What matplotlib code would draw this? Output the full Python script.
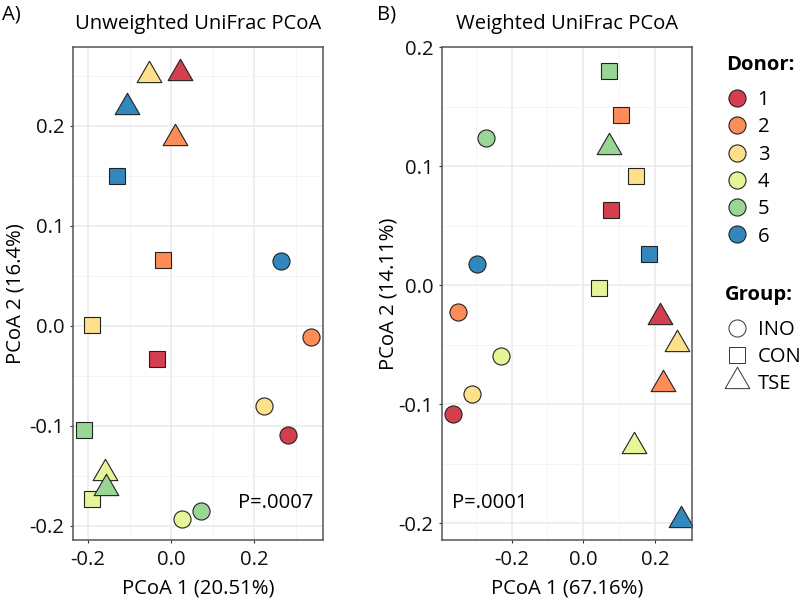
import matplotlib
matplotlib.use("Agg")
import matplotlib.pyplot as plt
from matplotlib.lines import Line2D
from matplotlib.path import Path
import numpy as np

plt.rcParams['font.family'] = ['Open Sans', 'DejaVu Sans']

donors = ['1', '2', '3', '4', '5', '6']
groups = ['INO', 'CON', 'TSE']
donor_colors = ['#D53E4F', '#FC8D59', '#FEE08B', '#E6F598', '#99D594', '#3288BD']

# Unweighted UniFrac: coordinates per group, ordered by donor 1..6
unw_x = {
    'INO': [0.281, 0.338, 0.224, 0.027, 0.073, 0.265],
    'CON': [-0.033, -0.019, -0.190, -0.190, -0.210, -0.131],
    'TSE': [0.022, 0.010, -0.053, -0.159, -0.156, -0.106],
}
unw_y = {
    'INO': [-0.109, -0.011, -0.080, -0.193, -0.185, 0.065],
    'CON': [-0.033, 0.066, 0.001, -0.173, -0.104, 0.150],
    'TSE': [0.253, 0.188, 0.251, -0.147, -0.162, 0.219],
}
# Weighted UniFrac
w_x = {
    'INO': [-0.363, -0.349, -0.312, -0.231, -0.272, -0.297],
    'CON': [0.077, 0.105, 0.147, 0.044, 0.073, 0.184],
    'TSE': [0.214, 0.222, 0.261, 0.142, 0.071, 0.272],
}
w_y = {
    'INO': [-0.108, -0.022, -0.091, -0.059, 0.124, 0.018],
    'CON': [0.063, 0.143, 0.092, -0.002, 0.180, 0.026],
    'TSE': [-0.027, -0.083, -0.049, -0.135, 0.116, -0.197],
}

tri = Path([(0, 1), (-0.866, -0.5), (0.866, -0.5), (0, 1)],
           [Path.MOVETO, Path.LINETO, Path.LINETO, Path.CLOSEPOLY])
markers = {'INO': 'o', 'CON': 's', 'TSE': tri}
msizes = {'INO': 12.3, 'CON': 11.5, 'TSE': 20.5}

FS = 14.6

fig = plt.figure(figsize=(8, 6), dpi=100)
ax1 = fig.add_axes([0.0913, 0.10, 0.3125, 0.8217])
ax2 = fig.add_axes([0.552, 0.10, 0.3133, 0.8217])

def style(ax, xlim, ylim, xmaj, ymaj, xmin, ymin):
    ax.set_xlim(*xlim)
    ax.set_ylim(*ylim)
    ax.set_xticks(xmaj)
    ax.set_yticks(ymaj)
    ax.set_xticks(xmin, minor=True)
    ax.set_yticks(ymin, minor=True)
    ax.grid(which='major', color='#EBEBEB', lw=1.2)
    ax.grid(which='minor', color='#F3F3F3', lw=0.6)
    ax.set_axisbelow(True)
    ax.tick_params(which='minor', length=0)
    ax.tick_params(which='major', length=2.5, color='#333333', width=0.8,
                   labelsize=FS, labelcolor='#111111', pad=3.5)
    ax.tick_params(axis='x', which='major', pad=4.5)
    for s in ax.spines.values():
        s.set_color('#555555')
        s.set_linewidth(1.1)

def draw(ax, X, Y):
    for g in groups:
        for i in range(len(donors)):
            ax.plot(X[g][i], Y[g][i], linestyle='none', marker=markers[g],
                    markersize=msizes[g], markerfacecolor=donor_colors[i],
                    markeredgecolor='#222222', markeredgewidth=0.8)

draw(ax1, unw_x, unw_y)
draw(ax2, w_x, w_y)

style(ax1, (-0.236, 0.366), (-0.214, 0.279),
      [-0.2, 0.0, 0.2], [-0.2, -0.1, 0.0, 0.1, 0.2],
      [-0.1, 0.1, 0.3], [-0.15, -0.05, 0.05, 0.15, 0.25])
style(ax2, (-0.3955, 0.304), (-0.214, 0.2003),
      [-0.2, 0.0, 0.2], [-0.2, -0.1, 0.0, 0.1, 0.2],
      [-0.3, -0.1, 0.1, 0.3], [-0.15, -0.05, 0.05, 0.15])
ax1.set_xticklabels(['-0.2', '0.0', '0.2'])
ax1.set_yticklabels(['-0.2', '-0.1', '0.0', '0.1', '0.2'])
ax2.set_xticklabels(['-0.2', '0.0', '0.2'])
ax2.set_yticklabels(['-0.2', '-0.1', '0.0', '0.1', '0.2'])

ax1.set_xlabel('PCoA 1 (20.51%)', fontsize=FS, labelpad=6)
ax1.set_ylabel('PCoA 2 (16.4%)', fontsize=FS, labelpad=3)
ax2.set_xlabel('PCoA 1 (67.16%)', fontsize=FS, labelpad=6)
ax2.set_ylabel('PCoA 2 (14.11%)', fontsize=FS, labelpad=0)
ax1.set_title('Unweighted UniFrac PCoA', fontsize=FS, pad=13)
ax2.set_title('Weighted UniFrac PCoA', fontsize=FS, pad=13)

ax1.text(0.96, 0.075, 'P=.0007', transform=ax1.transAxes, ha='right', va='center', fontsize=FS)
ax2.text(0.04, 0.075, 'P=.0001', transform=ax2.transAxes, ha='left', va='center', fontsize=FS)

fig.text(0.003, 0.976, 'A)', fontsize=FS, ha='left', va='center')
fig.text(0.471, 0.976, 'B)', fontsize=FS, ha='left', va='center')

# legends
fig.text(0.9075, 0.892, 'Donor:', fontsize=FS, fontweight='bold', ha='left', va='center')
donor_handles = [Line2D([], [], linestyle='none', marker='o', markersize=12.3,
                        markerfacecolor=c, markeredgecolor='#222222', markeredgewidth=0.8)
                 for c in donor_colors]
leg1 = fig.legend(donor_handles, donors, loc='upper left',
                  bbox_to_anchor=(0.909, 0.85), frameon=False, fontsize=FS,
                  handlelength=1.0, handletextpad=0.5, labelspacing=0.36,
                  borderaxespad=0, borderpad=0)
fig.text(0.9065, 0.508, 'Group:', fontsize=FS, fontweight='bold', ha='left', va='center')
group_handles = [Line2D([], [], linestyle='none', marker=markers[g], markersize=msizes[g],
                        markerfacecolor='white', markeredgecolor='#333333', markeredgewidth=0.7)
                 for g in groups]
leg2 = fig.legend(group_handles, groups, loc='upper left',
                  bbox_to_anchor=(0.909, 0.467), frameon=False, fontsize=FS,
                  handlelength=1.0, handletextpad=0.5, labelspacing=0.34,
                  borderaxespad=0, borderpad=0)

fig.savefig('out.png', dpi=100)
